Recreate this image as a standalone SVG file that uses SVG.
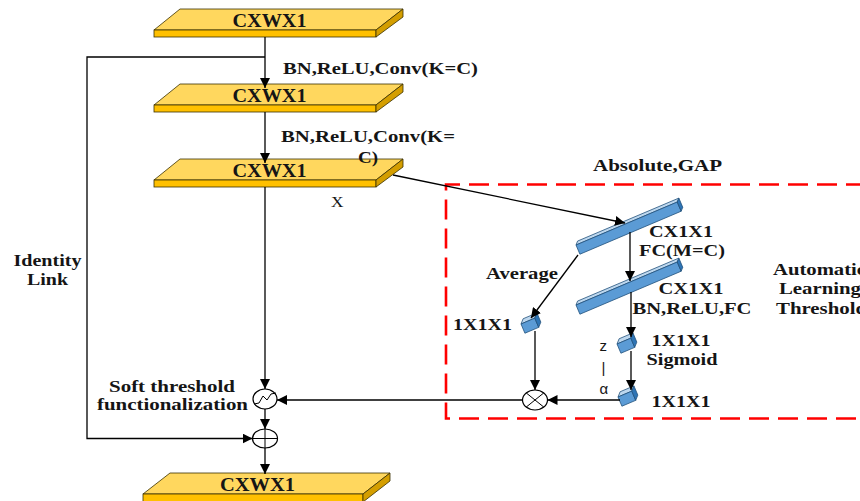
<svg xmlns="http://www.w3.org/2000/svg" xmlns:xlink="http://www.w3.org/1999/xlink" width="860" height="501" viewBox="0 0 860 501">
<style>
.t{font-family:"Liberation Serif","Times New Roman",serif;font-weight:bold;font-size:16.5px;fill:#151515}
.tc{font-family:"Liberation Serif","Times New Roman",serif;font-weight:bold;font-size:18px;fill:#151515}
.r{font-family:"Liberation Serif","Times New Roman",serif;font-size:15px;fill:#151515}
.sa{font-family:"Liberation Sans","DejaVu Sans",Arial,sans-serif;font-size:15px;fill:#151515}
.ln{fill:none;stroke:#000;stroke-width:1.3}
.ar{fill:none;stroke:#000;stroke-width:1.3;marker-end:url(#ah)}
.top{fill:#FFD75E;stroke:#3a3000;stroke-width:0.8}
.front{fill:#FFC000;stroke:#3a3000;stroke-width:0.8}
.side{fill:#D49E00;stroke:#3a3000;stroke-width:0.8}
.bt{fill:#BDD7EE;stroke:#1F4E79;stroke-width:0.7}
.bf{fill:#5B9BD5;stroke:#1F4E79;stroke-width:0.7}
.be{fill:#2E75B6;stroke:#1F4E79;stroke-width:0.7}
.op{fill:#fff;stroke:#000;stroke-width:1.2}
</style>
<defs>
<marker id="ah" markerUnits="userSpaceOnUse" markerWidth="10" markerHeight="10" refX="10" refY="5" orient="auto">
<path d="M0,0 L10,5 L0,10 z" fill="#000"/>
</marker>
<g id="barShape">
<polygon class="bt" points="0,0 110,0 113,-3 3,-3"/>
<rect class="bf" x="0" y="0" width="110" height="10"/>
<polygon class="be" points="110,0 113,-3 113,7 110,10"/>
</g>
<g id="cubeShape">
<polygon class="bt" points="0,0 15,0 19,-4 4,-4"/>
<rect class="bf" x="0" y="0" width="15" height="10"/>
<polygon class="be" points="15,0 19,-4 19,6 15,10"/>
</g>
<g id="slabShape">
<polygon class="top" points="180,9 403,9 376,30 154,30"/>
<rect class="front" x="154" y="30" width="222" height="7"/>
<polygon class="side" points="376,30 403,9 403,17 376,37"/>
</g>
</defs>

<g id="region-automatic-threshold">
<path d="M866,184.5 H446 V418.5 H866" fill="none" stroke="#FF0000" stroke-width="2.6" stroke-dasharray="20 9"/>
<text class="t" x="773" y="275" textLength="93" lengthAdjust="spacingAndGlyphs">Automatic</text>
<text class="t" x="779" y="293.5" textLength="82" lengthAdjust="spacingAndGlyphs">Learning</text>
<text class="t" x="776" y="313.5" textLength="91" lengthAdjust="spacingAndGlyphs">Threshold</text>
</g>

<g id="slab1">
<use xlink:href="#slabShape" href="#slabShape"/>
<text class="tc" x="232.5" y="26.5" textLength="74" lengthAdjust="spacingAndGlyphs">CXWX1</text>
</g>
<g id="slab2">
<use xlink:href="#slabShape" href="#slabShape" transform="translate(0,75)"/>
<text class="tc" x="232.5" y="101.5" textLength="74" lengthAdjust="spacingAndGlyphs">CXWX1</text>
</g>
<g id="slab3">
<use xlink:href="#slabShape" href="#slabShape" transform="translate(0,150)"/>
<text class="tc" x="232.5" y="176.5" textLength="74" lengthAdjust="spacingAndGlyphs">CXWX1</text>
</g>
<g id="slab-out">
<polygon class="top" points="170,473 390,473 363,494 143,494"/>
<rect class="front" x="143" y="494" width="220" height="9"/>
<polygon class="side" points="363,494 390,473 390,481 363,502"/>
<text class="tc" x="220" y="491" textLength="75" lengthAdjust="spacingAndGlyphs">CXWX1</text>
</g>

<g id="bar-gap">
<use xlink:href="#barShape" href="#barShape" transform="translate(576,245) rotate(-23)"/>
<text class="t" x="649" y="236.5" textLength="64" lengthAdjust="spacingAndGlyphs">CX1X1</text>
</g>
<g id="bar-fc">
<use xlink:href="#barShape" href="#barShape" transform="translate(576,305) rotate(-23)"/>
<text class="t" x="658.5" y="293.5" textLength="65" lengthAdjust="spacingAndGlyphs">CX1X1</text>
</g>
<g id="cube-average">
<use xlink:href="#cubeShape" href="#cubeShape" transform="translate(521,324) rotate(-23)"/>
<text class="t" x="453" y="330" textLength="59" lengthAdjust="spacingAndGlyphs">1X1X1</text>
</g>
<g id="cube-sigmoid">
<use xlink:href="#cubeShape" href="#cubeShape" transform="translate(617,344) rotate(-23)"/>
<text class="t" x="651.5" y="345.5" textLength="59" lengthAdjust="spacingAndGlyphs">1X1X1</text>
</g>
<g id="cube-alpha">
<use xlink:href="#cubeShape" href="#cubeShape" transform="translate(618,397) rotate(-23)"/>
<text class="t" x="651.5" y="407" textLength="59" lengthAdjust="spacingAndGlyphs">1X1X1</text>
</g>
<g id="multiply">
<ellipse class="op" cx="535" cy="400" rx="12.5" ry="10"/>
<path class="ln" d="M526.2,392.9 L543.8,407.1 M526.2,407.1 L543.8,392.9" style="stroke-width:1"/>
</g>
<g id="soft-threshold">
<ellipse class="op" cx="265" cy="399" rx="12" ry="10"/>
<polyline points="254,404 259,403 263,396 267,400 271,394 276,393" fill="none" stroke="#000" stroke-width="1"/>
<text class="t" x="109" y="391.5" textLength="126" lengthAdjust="spacingAndGlyphs">Soft threshold</text>
<text class="t" x="97" y="410" textLength="151" lengthAdjust="spacingAndGlyphs">functionalization</text>
</g>
<g id="add">
<ellipse class="op" cx="265" cy="438.5" rx="12.5" ry="9.5"/>
<path class="ln" d="M252.5,438.5 H277.5 M265,429 V448" style="stroke-width:1"/>
</g>

<g id="connectors">
<line class="ar" x1="265" y1="37" x2="265" y2="88"/>
<line class="ar" x1="265" y1="112" x2="265" y2="163"/>
<line class="ar" x1="265" y1="187" x2="265" y2="389"/>
<line class="ar" x1="265" y1="409" x2="265" y2="429"/>
<line class="ar" x1="265" y1="448" x2="265" y2="474"/>
<polyline class="ar" points="265,57 87,57 87,438.5 252.5,438.5"/>
<line class="ar" x1="393" y1="175" x2="625" y2="223"/>
<line class="ar" x1="630" y1="232" x2="630" y2="281"/>
<line class="ar" x1="578" y1="255" x2="531" y2="318"/>
<line class="ar" x1="631" y1="292" x2="631" y2="337"/>
<line class="ar" x1="631" y1="351" x2="631" y2="390"/>
<line class="ar" x1="535" y1="331" x2="535" y2="390"/>
<line class="ar" x1="620" y1="400" x2="547.5" y2="400"/>
<line class="ar" x1="522.5" y1="400" x2="277" y2="400"/>
</g>

<g id="labels">
<text class="t" x="283" y="73.5" textLength="195" lengthAdjust="spacingAndGlyphs">BN,ReLU,Conv(K=C)</text>
<text class="t" x="281" y="141.5" textLength="174" lengthAdjust="spacingAndGlyphs">BN,ReLU,Conv(K=</text>
<text class="t" x="358" y="163" textLength="20" lengthAdjust="spacingAndGlyphs">C)</text>
<text class="r" x="331" y="206.5" textLength="12.5" lengthAdjust="spacingAndGlyphs">X</text>
<text class="t" x="593" y="170.5" textLength="129" lengthAdjust="spacingAndGlyphs">Absolute,GAP</text>
<text class="t" x="639" y="256" textLength="86" lengthAdjust="spacingAndGlyphs">FC(M=C)</text>
<text class="t" x="632.5" y="314" textLength="119" lengthAdjust="spacingAndGlyphs">BN,ReLU,FC</text>
<text class="t" x="486" y="279" textLength="72" lengthAdjust="spacingAndGlyphs">Average</text>
<text class="t" x="646.5" y="365" textLength="71" lengthAdjust="spacingAndGlyphs">Sigmoid</text>
<text class="t" x="13.5" y="266" textLength="68" lengthAdjust="spacingAndGlyphs">Identity</text>
<text class="t" x="27" y="285" textLength="41" lengthAdjust="spacingAndGlyphs">Link</text>
<text class="sa" x="599.5" y="351">z</text>
<text class="sa" x="603.5" y="373" text-anchor="middle">|</text>
<text class="sa" x="599.5" y="393.5">α</text>
</g>
</svg>
